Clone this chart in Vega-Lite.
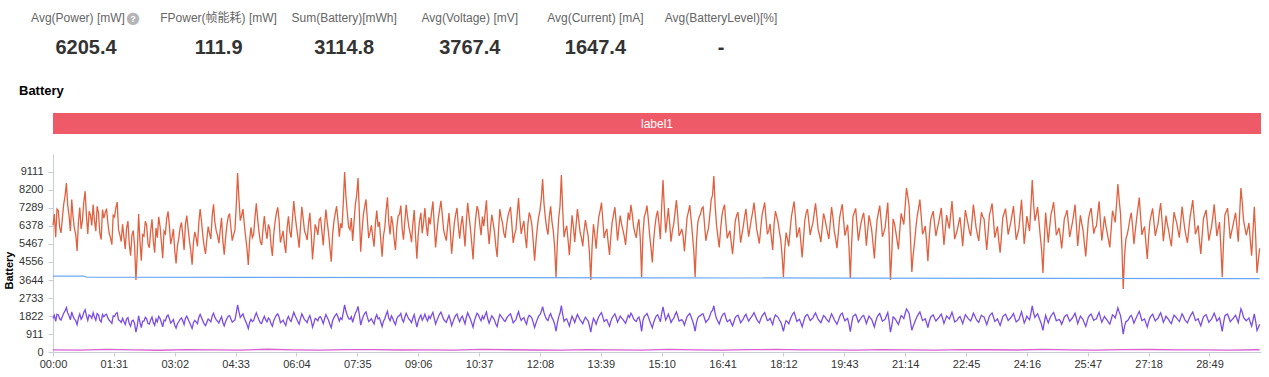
{
"$schema": "https://vega.github.io/schema/vega-lite/v6.json",
"padding": {"left": 3, "top": 0, "right": 0, "bottom": 0},
"autosize": {"type": "pad"},
"background": "white",
"bounds": "flush",
"spacing": 20,
"config": {
  "view": {"stroke": null},
  "font": "Liberation Sans, Noto Sans CJK SC, sans-serif",
  "axis": {"domainColor": "#c9ced6", "tickColor": "#c9ced6", "labelColor": "#333", "labelFontSize": 11, "grid": false, "tickSize": 5, "labelFont": "Liberation Sans"}
},
"datasets": {
  "stats": [
    {"metric": "Avg(Power) [mW]", "value": "6205.4"},
    {"metric": "FPower(帧能耗) [mW]", "value": "111.9"},
    {"metric": "Sum(Battery)[mWh]", "value": "3114.8"},
    {"metric": "Avg(Voltage) [mV]", "value": "3767.4"},
    {"metric": "Avg(Current) [mA]", "value": "1647.4"},
    {"metric": "Avg(BatteryLevel)[%]", "value": "-"}
  ],
  "band": [{"label": "label1"}],
  "volt": [
    {"t": 0, "v": 3845}, {"t": 46, "v": 3845}, {"t": 50, "v": 3790}, {"t": 300, "v": 3780}, {"t": 600, "v": 3765}, {"t": 900, "v": 3755}, {"t": 1200, "v": 3740}, {"t": 1500, "v": 3725}, {"t": 1804, "v": 3715}
  ],
  "fp": [
    {"t": 0, "f": 110}, {"t": 40, "f": 95}, {"t": 80, "f": 130}, {"t": 120, "f": 105}, {"t": 160, "f": 88}, {"t": 200, "f": 120}, {"t": 240, "f": 112}, {"t": 280, "f": 98}, {"t": 320, "f": 140}, {"t": 360, "f": 104},
    {"t": 400, "f": 92}, {"t": 440, "f": 118}, {"t": 480, "f": 125}, {"t": 520, "f": 100}, {"t": 560, "f": 108}, {"t": 600, "f": 96}, {"t": 640, "f": 134}, {"t": 680, "f": 115}, {"t": 720, "f": 102}, {"t": 760, "f": 90},
    {"t": 800, "f": 122}, {"t": 840, "f": 110}, {"t": 880, "f": 99}, {"t": 920, "f": 128}, {"t": 960, "f": 106}, {"t": 1000, "f": 94}, {"t": 1040, "f": 117}, {"t": 1080, "f": 131}, {"t": 1120, "f": 103}, {"t": 1160, "f": 112},
    {"t": 1200, "f": 97}, {"t": 1240, "f": 124}, {"t": 1280, "f": 109}, {"t": 1320, "f": 91}, {"t": 1360, "f": 120}, {"t": 1400, "f": 113}, {"t": 1440, "f": 101}, {"t": 1480, "f": 136}, {"t": 1520, "f": 107}, {"t": 1560, "f": 95},
    {"t": 1600, "f": 119}, {"t": 1640, "f": 126}, {"t": 1680, "f": 104}, {"t": 1720, "f": 111}, {"t": 1760, "f": 98}, {"t": 1800, "f": 115}, {"t": 1804, "f": 110}
  ],
  "main": [
{"t":0,"p":6420,"c":1690},{"t":4,"p":5810,"c":1555},{"t":8,"p":7150,"c":1880},{"t":12,"p":6030,"c":1615},{"t":16,"p":7480,"c":1960},{"t":20,"p":8550,"c":2250},{"t":24,"p":6890,"c":1840},{"t":28,"p":7720,"c":2030},{"t":32,"p":6240,"c":1665},{"t":36,"p":5120,"c":1380},
{"t":40,"p":7310,"c":1925},{"t":44,"p":6650,"c":1775},{"t":48,"p":8140,"c":2140},{"t":52,"p":5980,"c":1600},{"t":56,"p":6930,"c":1820},{"t":60,"p":7460,"c":1990},{"t":64,"p":6120,"c":1610},{"t":68,"p":7050,"c":1880},{"t":72,"p":5690,"c":1520},{"t":76,"p":6780,"c":1785},
{"t":80,"p":7260,"c":1910},{"t":84,"p":6010,"c":1605},{"t":88,"p":5430,"c":1450},{"t":92,"p":6840,"c":1800},{"t":96,"p":7590,"c":1995},{"t":100,"p":5920,"c":1580},{"t":104,"p":6470,"c":1700},{"t":108,"p":5210,"c":1395},{"t":112,"p":6630,"c":1745},{"t":116,"p":4870,"c":1305},
{"t":120,"p":6150,"c":1615},{"t":124,"p":3640,"c":1010},{"t":128,"p":6980,"c":1835},{"t":132,"p":4620,"c":1240},{"t":136,"p":5860,"c":1560},{"t":140,"p":6410,"c":1685},{"t":144,"p":5280,"c":1410},{"t":148,"p":6720,"c":1770},{"t":152,"p":5030,"c":1350},{"t":156,"p":5790,"c":1525},
{"t":160,"p":6380,"c":1705},{"t":164,"p":4750,"c":1270},{"t":168,"p":5990,"c":1575},{"t":172,"p":7120,"c":1870},{"t":176,"p":5460,"c":1460},{"t":180,"p":6230,"c":1640},{"t":184,"p":4480,"c":1210},{"t":188,"p":5740,"c":1530},{"t":192,"p":6560,"c":1725},{"t":196,"p":5170,"c":1385},
{"t":200,"p":6910,"c":1815},{"t":204,"p":5630,"c":1505},{"t":208,"p":4420,"c":1195},{"t":212,"p":6080,"c":1600},{"t":216,"p":5350,"c":1430},{"t":220,"p":7240,"c":1900},{"t":224,"p":5890,"c":1575},{"t":228,"p":4960,"c":1330},{"t":232,"p":6350,"c":1670},{"t":236,"p":5720,"c":1530},
{"t":240,"p":7480,"c":1965},{"t":244,"p":6140,"c":1640},{"t":248,"p":5510,"c":1470},{"t":252,"p":6790,"c":1785},{"t":256,"p":4930,"c":1320},{"t":260,"p":6420,"c":1690},{"t":264,"p":7010,"c":1845},{"t":268,"p":5640,"c":1510},{"t":272,"p":6180,"c":1625},{"t":276,"p":9060,"c":2380},
{"t":280,"p":6650,"c":1750},{"t":284,"p":7230,"c":1930},{"t":288,"p":5820,"c":1555},{"t":292,"p":4410,"c":1185},{"t":296,"p":6310,"c":1660},{"t":300,"p":5960,"c":1595},{"t":304,"p":7530,"c":1980},{"t":308,"p":6070,"c":1620},{"t":312,"p":5410,"c":1445},{"t":316,"p":6880,"c":1810},
{"t":320,"p":5730,"c":1530},{"t":324,"p":6240,"c":1640},{"t":328,"p":4860,"c":1300},{"t":332,"p":6590,"c":1735},{"t":336,"p":7320,"c":1925},{"t":340,"p":5540,"c":1480},{"t":344,"p":6130,"c":1615},{"t":348,"p":5010,"c":1340},{"t":352,"p":6870,"c":1805},{"t":356,"p":5790,"c":1550},
{"t":360,"p":7640,"c":2010},{"t":364,"p":6350,"c":1695},{"t":368,"p":5280,"c":1410},{"t":372,"p":7350,"c":1935},{"t":376,"p":6120,"c":1635},{"t":380,"p":5670,"c":1490},{"t":384,"p":7040,"c":1850},{"t":388,"p":4690,"c":1260},{"t":392,"p":6460,"c":1700},{"t":396,"p":5930,"c":1585},
{"t":400,"p":6780,"c":1780},{"t":404,"p":5390,"c":1440},{"t":408,"p":7210,"c":1895},{"t":412,"p":6020,"c":1610},{"t":416,"p":4570,"c":1230},{"t":420,"p":6610,"c":1740},{"t":424,"p":7380,"c":1940},{"t":428,"p":5840,"c":1560},{"t":432,"p":6270,"c":1650},{"t":436,"p":9110,"c":2380},
{"t":440,"p":7050,"c":1855},{"t":444,"p":6190,"c":1655},{"t":448,"p":5620,"c":1500},{"t":452,"p":7470,"c":1965},{"t":456,"p":8800,"c":2310},{"t":460,"p":5080,"c":1360},{"t":464,"p":6940,"c":1825},{"t":468,"p":7720,"c":2030},{"t":472,"p":5760,"c":1540},{"t":476,"p":6410,"c":1685},
{"t":480,"p":5330,"c":1425},{"t":484,"p":7160,"c":1885},{"t":488,"p":6580,"c":1730},{"t":492,"p":4820,"c":1290},{"t":496,"p":6290,"c":1680},{"t":500,"p":7830,"c":2060},{"t":504,"p":5950,"c":1590},{"t":508,"p":6470,"c":1700},{"t":512,"p":5170,"c":1385},{"t":516,"p":6890,"c":1810},
{"t":520,"p":7410,"c":1950},{"t":524,"p":5680,"c":1520},{"t":528,"p":7450,"c":1960},{"t":532,"p":6350,"c":1670},{"t":536,"p":5560,"c":1485},{"t":540,"p":7190,"c":1890},{"t":544,"p":4720,"c":1265},{"t":548,"p":6630,"c":1745},{"t":552,"p":6010,"c":1605},{"t":556,"p":7280,"c":1915},
{"t":560,"p":5870,"c":1570},{"t":564,"p":6460,"c":1700},{"t":568,"p":7620,"c":2005},{"t":572,"p":5290,"c":1415},{"t":576,"p":6740,"c":1775},{"t":580,"p":7650,"c":2015},{"t":584,"p":6180,"c":1650},{"t":588,"p":5640,"c":1505},{"t":592,"p":7030,"c":1850},{"t":596,"p":4980,"c":1335},
{"t":600,"p":6520,"c":1715},{"t":604,"p":7290,"c":1920},{"t":608,"p":5730,"c":1530},{"t":612,"p":6880,"c":1810},{"t":616,"p":5340,"c":1430},{"t":620,"p":7550,"c":1985},{"t":624,"p":6260,"c":1670},{"t":628,"p":4690,"c":1255},{"t":632,"p":6790,"c":1785},{"t":636,"p":7140,"c":1880},
{"t":640,"p":5910,"c":1580},{"t":644,"p":6370,"c":1675},{"t":648,"p":7680,"c":2020},{"t":652,"p":5460,"c":1460},{"t":656,"p":6950,"c":1830},{"t":660,"p":6080,"c":1625},{"t":664,"p":4810,"c":1290},{"t":668,"p":7230,"c":1900},{"t":672,"p":6540,"c":1720},{"t":676,"p":5780,"c":1545},
{"t":680,"p":6850,"c":1800},{"t":684,"p":7340,"c":1930},{"t":688,"p":5520,"c":1475},{"t":692,"p":6170,"c":1620},{"t":696,"p":7790,"c":2045},{"t":700,"p":5980,"c":1600},{"t":704,"p":6630,"c":1745},{"t":708,"p":5250,"c":1405},{"t":712,"p":7060,"c":1860},{"t":716,"p":6410,"c":1710},
{"t":720,"p":4620,"c":1240},{"t":724,"p":6280,"c":1650},{"t":728,"p":7160,"c":1885},{"t":732,"p":8760,"c":2300},{"t":736,"p":6830,"c":1795},{"t":740,"p":5940,"c":1590},{"t":744,"p":7370,"c":1940},{"t":748,"p":6120,"c":1610},{"t":752,"p":3800,"c":1050},{"t":756,"p":6760,"c":1780},
{"t":760,"p":8960,"c":2350},{"t":764,"p":5810,"c":1555},{"t":768,"p":6390,"c":1680},{"t":772,"p":4900,"c":1315},{"t":776,"p":6920,"c":1820},{"t":780,"p":5570,"c":1490},{"t":784,"p":7240,"c":1905},{"t":788,"p":6060,"c":1620},{"t":792,"p":5350,"c":1430},{"t":796,"p":6680,"c":1760},
{"t":800,"p":5890,"c":1575},{"t":804,"p":3640,"c":1010},{"t":808,"p":6470,"c":1700},{"t":812,"p":5230,"c":1400},{"t":816,"p":6840,"c":1800},{"t":820,"p":7560,"c":1990},{"t":824,"p":5760,"c":1540},{"t":828,"p":6230,"c":1640},{"t":832,"p":4910,"c":1315},{"t":836,"p":6570,"c":1730},
{"t":840,"p":7330,"c":1930},{"t":844,"p":5640,"c":1510},{"t":848,"p":6910,"c":1815},{"t":852,"p":6180,"c":1650},{"t":856,"p":5420,"c":1450},{"t":860,"p":7060,"c":1855},{"t":864,"p":7450,"c":1960},{"t":868,"p":6340,"c":1670},{"t":872,"p":5780,"c":1545},{"t":876,"p":6720,"c":1770},
{"t":880,"p":3800,"c":1040},{"t":884,"p":6850,"c":1800},{"t":888,"p":7410,"c":1950},{"t":892,"p":5930,"c":1585},{"t":896,"p":4530,"c":1220},{"t":900,"p":6380,"c":1680},{"t":904,"p":7150,"c":1880},{"t":908,"p":5710,"c":1525},{"t":912,"p":8700,"c":2280},{"t":916,"p":6040,"c":1615},
{"t":920,"p":7280,"c":1915},{"t":924,"p":5580,"c":1490},{"t":928,"p":6470,"c":1700},{"t":932,"p":7690,"c":2025},{"t":936,"p":5870,"c":1570},{"t":940,"p":6230,"c":1640},{"t":944,"p":5090,"c":1360},{"t":948,"p":6810,"c":1790},{"t":952,"p":7430,"c":1955},{"t":956,"p":5940,"c":1590},
{"t":960,"p":3800,"c":1050},{"t":964,"p":6560,"c":1725},{"t":968,"p":6980,"c":1835},{"t":972,"p":7340,"c":1930},{"t":976,"p":5630,"c":1505},{"t":980,"p":6270,"c":1650},{"t":984,"p":7710,"c":2030},{"t":988,"p":8910,"c":2340},{"t":992,"p":6430,"c":1690},{"t":996,"p":5290,"c":1415},
{"t":1000,"p":6890,"c":1810},{"t":1004,"p":7460,"c":1960},{"t":1008,"p":5750,"c":1535},{"t":1012,"p":6140,"c":1640},{"t":1016,"p":4950,"c":1325},{"t":1020,"p":6620,"c":1740},{"t":1024,"p":7080,"c":1865},{"t":1028,"p":5530,"c":1480},{"t":1032,"p":6360,"c":1675},{"t":1036,"p":7250,"c":1905},
{"t":1040,"p":5840,"c":1560},{"t":1044,"p":6710,"c":1765},{"t":1048,"p":7560,"c":1990},{"t":1052,"p":6230,"c":1665},{"t":1056,"p":5490,"c":1470},{"t":1060,"p":6930,"c":1820},{"t":1064,"p":7570,"c":1995},{"t":1068,"p":5960,"c":1590},{"t":1072,"p":6480,"c":1705},{"t":1076,"p":5170,"c":1385},
{"t":1080,"p":7130,"c":1875},{"t":1084,"p":6570,"c":1755},{"t":1088,"p":5680,"c":1515},{"t":1092,"p":3800,"c":1040},{"t":1096,"p":6040,"c":1590},{"t":1100,"p":5350,"c":1430},{"t":1104,"p":6850,"c":1800},{"t":1108,"p":7620,"c":2005},{"t":1112,"p":5790,"c":1550},{"t":1116,"p":6310,"c":1660},
{"t":1120,"p":4780,"c":1280},{"t":1124,"p":6670,"c":1755},{"t":1128,"p":7240,"c":1905},{"t":1132,"p":5930,"c":1585},{"t":1136,"p":6520,"c":1715},{"t":1140,"p":7520,"c":1980},{"t":1144,"p":6180,"c":1650},{"t":1148,"p":5560,"c":1485},{"t":1152,"p":7010,"c":1845},{"t":1156,"p":6390,"c":1680},
{"t":1160,"p":5720,"c":1530},{"t":1164,"p":7340,"c":1930},{"t":1168,"p":6110,"c":1630},{"t":1172,"p":5260,"c":1405},{"t":1176,"p":6790,"c":1785},{"t":1180,"p":7480,"c":1970},{"t":1184,"p":5890,"c":1575},{"t":1188,"p":6440,"c":1695},{"t":1192,"p":3750,"c":1030},{"t":1196,"p":6860,"c":1805},
{"t":1200,"p":7270,"c":1910},{"t":1204,"p":5640,"c":1510},{"t":1208,"p":6530,"c":1720},{"t":1212,"p":7050,"c":1855},{"t":1216,"p":5380,"c":1440},{"t":1220,"p":6920,"c":1820},{"t":1224,"p":6160,"c":1645},{"t":1228,"p":4740,"c":1270},{"t":1232,"p":6680,"c":1760},{"t":1236,"p":7410,"c":1950},
{"t":1240,"p":5830,"c":1560},{"t":1244,"p":6290,"c":1655},{"t":1248,"p":7560,"c":1990},{"t":1252,"p":3640,"c":1000},{"t":1256,"p":6740,"c":1775},{"t":1260,"p":6080,"c":1625},{"t":1264,"p":5190,"c":1390},{"t":1268,"p":7020,"c":1845},{"t":1272,"p":6450,"c":1695},{"t":1276,"p":8300,"c":2180},
{"t":1280,"p":7380,"c":1940},{"t":1284,"p":4050,"c":1100},{"t":1288,"p":5540,"c":1480},{"t":1292,"p":6870,"c":1805},{"t":1296,"p":7720,"c":2030},{"t":1300,"p":5960,"c":1590},{"t":1304,"p":6380,"c":1680},{"t":1308,"p":4590,"c":1235},{"t":1312,"p":6660,"c":1750},{"t":1316,"p":7130,"c":1875},
{"t":1320,"p":5870,"c":1570},{"t":1324,"p":6540,"c":1720},{"t":1328,"p":7290,"c":1915},{"t":1332,"p":5420,"c":1450},{"t":1336,"p":6930,"c":1825},{"t":1340,"p":6250,"c":1670},{"t":1344,"p":7640,"c":2010},{"t":1348,"p":5710,"c":1525},{"t":1352,"p":6180,"c":1625},{"t":1356,"p":6820,"c":1795},
{"t":1360,"p":5360,"c":1435},{"t":1364,"p":7180,"c":1890},{"t":1368,"p":6490,"c":1705},{"t":1372,"p":5880,"c":1570},{"t":1376,"p":7460,"c":1960},{"t":1380,"p":6310,"c":1685},{"t":1384,"p":5620,"c":1500},{"t":1388,"p":7070,"c":1860},{"t":1392,"p":6730,"c":1770},{"t":1396,"p":5160,"c":1380},
{"t":1400,"p":6940,"c":1825},{"t":1404,"p":7520,"c":1975},{"t":1408,"p":5790,"c":1550},{"t":1412,"p":6360,"c":1670},{"t":1416,"p":5030,"c":1345},{"t":1420,"p":6810,"c":1790},{"t":1424,"p":7260,"c":1910},{"t":1428,"p":5940,"c":1590},{"t":1432,"p":6570,"c":1730},{"t":1436,"p":7390,"c":1945},
{"t":1440,"p":5680,"c":1520},{"t":1444,"p":6230,"c":1640},{"t":1448,"p":7710,"c":2030},{"t":1452,"p":5470,"c":1465},{"t":1456,"p":6880,"c":1810},{"t":1460,"p":6120,"c":1635},{"t":1464,"p":8700,"c":2330},{"t":1468,"p":6640,"c":1745},{"t":1472,"p":7340,"c":1930},{"t":1476,"p":5860,"c":1565},
{"t":1480,"p":4000,"c":1090},{"t":1484,"p":7060,"c":1855},{"t":1488,"p":5530,"c":1480},{"t":1492,"p":6970,"c":1835},{"t":1496,"p":7580,"c":1995},{"t":1500,"p":5910,"c":1580},{"t":1504,"p":6290,"c":1655},{"t":1508,"p":5240,"c":1400},{"t":1512,"p":6750,"c":1775},{"t":1516,"p":7180,"c":1890},
{"t":1520,"p":5810,"c":1555},{"t":1524,"p":6530,"c":1720},{"t":1528,"p":7460,"c":1960},{"t":1532,"p":5370,"c":1435},{"t":1536,"p":6920,"c":1820},{"t":1540,"p":6160,"c":1645},{"t":1544,"p":4840,"c":1295},{"t":1548,"p":6710,"c":1765},{"t":1552,"p":7290,"c":1920},{"t":1556,"p":5990,"c":1600},
{"t":1560,"p":6380,"c":1680},{"t":1564,"p":7630,"c":2005},{"t":1568,"p":5640,"c":1510},{"t":1572,"p":6870,"c":1805},{"t":1576,"p":6040,"c":1615},{"t":1580,"p":5290,"c":1415},{"t":1584,"p":7150,"c":1880},{"t":1588,"p":6560,"c":1725},{"t":1592,"p":8500,"c":2240},{"t":1596,"p":6990,"c":1840},
{"t":1600,"p":3190,"c":900},{"t":1604,"p":5720,"c":1530},{"t":1608,"p":6280,"c":1650},{"t":1612,"p":7050,"c":1855},{"t":1616,"p":5460,"c":1460},{"t":1620,"p":6740,"c":1770},{"t":1624,"p":7820,"c":2055},{"t":1628,"p":5930,"c":1585},{"t":1632,"p":6350,"c":1670},{"t":1636,"p":4710,"c":1265},
{"t":1640,"p":6630,"c":1745},{"t":1644,"p":7270,"c":1910},{"t":1648,"p":5880,"c":1570},{"t":1652,"p":6490,"c":1705},{"t":1656,"p":7540,"c":1985},{"t":1660,"p":5610,"c":1500},{"t":1664,"p":6910,"c":1815},{"t":1668,"p":6130,"c":1640},{"t":1672,"p":5350,"c":1430},{"t":1676,"p":7080,"c":1860},
{"t":1680,"p":6520,"c":1715},{"t":1684,"p":5790,"c":1550},{"t":1688,"p":7360,"c":1935},{"t":1692,"p":6240,"c":1640},{"t":1696,"p":5530,"c":1480},{"t":1700,"p":6850,"c":1800},{"t":1704,"p":7690,"c":2020},{"t":1708,"p":5960,"c":1595},{"t":1712,"p":6410,"c":1685},{"t":1716,"p":4960,"c":1330},
{"t":1720,"p":6760,"c":1775},{"t":1724,"p":7190,"c":1890},{"t":1728,"p":5640,"c":1510},{"t":1732,"p":6320,"c":1660},{"t":1736,"p":7470,"c":1965},{"t":1740,"p":5870,"c":1570},{"t":1744,"p":6580,"c":1730},{"t":1748,"p":3800,"c":1040},{"t":1752,"p":6940,"c":1825},{"t":1756,"p":7280,"c":1915},
{"t":1760,"p":5740,"c":1535},{"t":1764,"p":6390,"c":1680},{"t":1768,"p":7050,"c":1855},{"t":1772,"p":5580,"c":1490},{"t":1776,"p":8300,"c":2185},{"t":1780,"p":6650,"c":1750},{"t":1784,"p":5910,"c":1580},{"t":1788,"p":6530,"c":1720},{"t":1792,"p":4870,"c":1305},{"t":1796,"p":7350,"c":1930},
{"t":1800,"p":4000,"c":1090},{"t":1804,"p":5250,"c":1405},
{"t":2,"p":6980,"c":1850},{"t":6,"p":7240,"c":1910},{"t":10,"p":6310,"c":1680},{"t":14,"p":6770,"c":1800},{"t":18,"p":7890,"c":2080},{"t":22,"p":7430,"c":1975},{"t":26,"p":6120,"c":1630},{"t":30,"p":6850,"c":1805},{"t":34,"p":5940,"c":1585},{"t":38,"p":6560,"c":1730},
{"t":42,"p":6230,"c":1660},{"t":46,"p":7580,"c":1995},{"t":50,"p":6890,"c":1835},{"t":54,"p":7120,"c":1875},{"t":58,"p":6410,"c":1705},{"t":62,"p":6650,"c":1770},{"t":66,"p":7370,"c":1945},{"t":70,"p":6020,"c":1605},{"t":74,"p":7210,"c":1900},{"t":78,"p":7040,"c":1875},
{"t":82,"p":6540,"c":1725},{"t":86,"p":5760,"c":1540},{"t":90,"p":6920,"c":1825},{"t":94,"p":7310,"c":1945},{"t":98,"p":6180,"c":1630},{"t":102,"p":5590,"c":1495},{"t":106,"p":5840,"c":1540},{"t":110,"p":6270,"c":1670},{"t":114,"p":5480,"c":1445},{"t":118,"p":5910,"c":1575},
{"t":122,"p":5360,"c":1430},{"t":126,"p":5010,"c":1320},{"t":130,"p":5620,"c":1500},{"t":134,"p":5940,"c":1565},{"t":138,"p":6620,"c":1760},{"t":142,"p":5470,"c":1440},{"t":146,"p":6110,"c":1625},{"t":150,"p":5630,"c":1485},{"t":154,"p":6280,"c":1670},{"t":158,"p":6840,"c":1805},
{"t":162,"p":5590,"c":1490},{"t":166,"p":6120,"c":1615},{"t":170,"p":6760,"c":1800},{"t":174,"p":6380,"c":1685},{"t":178,"p":5810,"c":1545},{"t":182,"p":5140,"c":1355},{"t":186,"p":5360,"c":1430},{"t":190,"p":6280,"c":1655},{"t":194,"p":5930,"c":1580},{"t":198,"p":6470,"c":1710},
{"t":202,"p":6240,"c":1660},{"t":206,"p":5120,"c":1350},{"t":210,"p":5570,"c":1485},{"t":214,"p":5780,"c":1525},{"t":218,"p":6550,"c":1745},{"t":222,"p":6630,"c":1750},{"t":226,"p":5340,"c":1425},{"t":230,"p":5710,"c":1505},{"t":234,"p":6020,"c":1600},{"t":238,"p":6890,"c":1820},
{"t":242,"p":6580,"c":1750},{"t":246,"p":5890,"c":1555},{"t":250,"p":6160,"c":1640},{"t":254,"p":5610,"c":1480},{"t":258,"p":5780,"c":1540},{"t":262,"p":6850,"c":1810},{"t":266,"p":6290,"c":1675},{"t":270,"p":5930,"c":1565},{"t":274,"p":7420,"c":1975},{"t":278,"p":7750,"c":2045},
{"t":282,"p":6910,"c":1840},{"t":286,"p":6480,"c":1710},{"t":290,"p":5240,"c":1395},{"t":294,"p":5670,"c":1495},{"t":298,"p":5790,"c":1540},{"t":302,"p":6840,"c":1805},{"t":306,"p":6720,"c":1790},{"t":310,"p":5580,"c":1470},{"t":314,"p":6240,"c":1660},{"t":318,"p":6150,"c":1625},
{"t":322,"p":6460,"c":1720},{"t":326,"p":5410,"c":1425},{"t":330,"p":5950,"c":1585},{"t":334,"p":7040,"c":1860},{"t":338,"p":6670,"c":1775},{"t":342,"p":5830,"c":1540},{"t":346,"p":5460,"c":1455},{"t":350,"p":6290,"c":1660},{"t":354,"p":6110,"c":1625},{"t":358,"p":6760,"c":1785},
{"t":362,"p":6890,"c":1830},{"t":366,"p":5860,"c":1545},{"t":370,"p":6340,"c":1690},{"t":374,"p":6780,"c":1790},{"t":378,"p":5940,"c":1580},{"t":382,"p":6490,"c":1715},{"t":386,"p":6010,"c":1600},{"t":390,"p":5580,"c":1470},{"t":394,"p":6230,"c":1660},{"t":398,"p":6690,"c":1765},
{"t":402,"p":6140,"c":1635},{"t":406,"p":6380,"c":1685},{"t":410,"p":6560,"c":1745},{"t":414,"p":5270,"c":1390},{"t":418,"p":5930,"c":1580},{"t":422,"p":7020,"c":1855},{"t":426,"p":6690,"c":1780},{"t":430,"p":6510,"c":1720},{"t":434,"p":7560,"c":2010},{"t":438,"p":7830,"c":2060},
{"t":442,"p":6320,"c":1680},{"t":446,"p":6780,"c":1790},{"t":450,"p":6540,"c":1740},{"t":454,"p":7920,"c":2090},{"t":458,"p":7080,"c":1885},{"t":462,"p":6130,"c":1620},{"t":466,"p":7360,"c":1955},{"t":470,"p":6690,"c":1765},{"t":474,"p":6050,"c":1610},{"t":478,"p":5840,"c":1545},
{"t":482,"p":6470,"c":1720},{"t":486,"p":6340,"c":1675},{"t":490,"p":5690,"c":1515},{"t":494,"p":5870,"c":1550},{"t":498,"p":7150,"c":1900},{"t":502,"p":6540,"c":1725},{"t":506,"p":6880,"c":1830},{"t":510,"p":5720,"c":1510},{"t":514,"p":6320,"c":1680},{"t":518,"p":6960,"c":1840},
{"t":522,"p":6250,"c":1650},{"t":526,"p":6620,"c":1760},{"t":530,"p":6840,"c":1805},{"t":534,"p":6010,"c":1600},{"t":538,"p":6480,"c":1710},{"t":542,"p":5870,"c":1565},{"t":546,"p":5920,"c":1560},{"t":550,"p":7040,"c":1870},{"t":554,"p":6580,"c":1735},{"t":558,"p":6430,"c":1710},
{"t":562,"p":6820,"c":1815},{"t":566,"p":7090,"c":1870},{"t":570,"p":6410,"c":1705},{"t":574,"p":6070,"c":1600},{"t":578,"p":7210,"c":1920},{"t":582,"p":6950,"c":1835},{"t":586,"p":5890,"c":1570},{"t":590,"p":6370,"c":1680},{"t":594,"p":6120,"c":1630},{"t":598,"p":5780,"c":1525},
{"t":602,"p":6970,"c":1855},{"t":606,"p":6390,"c":1685},{"t":610,"p":6450,"c":1715},{"t":614,"p":6130,"c":1620},{"t":618,"p":6620,"c":1760},{"t":622,"p":6880,"c":1815},{"t":626,"p":5520,"c":1470},{"t":630,"p":5960,"c":1575},{"t":634,"p":7380,"c":1965},{"t":638,"p":6470,"c":1705},
{"t":642,"p":6850,"c":1820},{"t":646,"p":7030,"c":1855},{"t":650,"p":6310,"c":1680},{"t":654,"p":6240,"c":1645},{"t":658,"p":6540,"c":1740},{"t":662,"p":5370,"c":1415},{"t":666,"p":6080,"c":1620},{"t":670,"p":6810,"c":1800},{"t":674,"p":6020,"c":1605},{"t":678,"p":6390,"c":1690},
{"t":682,"p":7120,"c":1880},{"t":686,"p":6460,"c":1720},{"t":690,"p":5940,"c":1565},{"t":694,"p":6980,"c":1860},{"t":698,"p":6730,"c":1775},{"t":702,"p":6350,"c":1690},{"t":706,"p":5860,"c":1545},{"t":710,"p":6470,"c":1720},{"t":714,"p":6820,"c":1800},{"t":718,"p":5590,"c":1490},
{"t":722,"p":5540,"c":1460},{"t":726,"p":6830,"c":1815},{"t":730,"p":7760,"c":2045},{"t":734,"p":7540,"c":2005},{"t":738,"p":6270,"c":1655},{"t":742,"p":6840,"c":1820},{"t":746,"p":6590,"c":1740},{"t":750,"p":5280,"c":1405},{"t":754,"p":5510,"c":1455},{"t":758,"p":7380,"c":1960},
{"t":762,"p":7240,"c":1910},{"t":766,"p":6170,"c":1645},{"t":770,"p":5680,"c":1500},{"t":774,"p":5930,"c":1580},{"t":778,"p":6350,"c":1675},{"t":782,"p":6420,"c":1710},{"t":786,"p":6690,"c":1765},{"t":790,"p":5790,"c":1540},{"t":794,"p":6140,"c":1620},{"t":798,"p":6260,"c":1665},
{"t":802,"p":5020,"c":1340},{"t":806,"p":5360,"c":1415},{"t":810,"p":5910,"c":1575},{"t":814,"p":6150,"c":1625},{"t":818,"p":7150,"c":1900},{"t":822,"p":6680,"c":1765},{"t":826,"p":6070,"c":1615},{"t":830,"p":5540,"c":1460},{"t":834,"p":5850,"c":1555},{"t":838,"p":6940,"c":1835},
{"t":842,"p":6550,"c":1745},{"t":846,"p":6290,"c":1660},{"t":850,"p":6480,"c":1725},{"t":854,"p":5860,"c":1545},{"t":858,"p":6230,"c":1660},{"t":862,"p":6670,"c":1760},{"t":866,"p":6980,"c":1855},{"t":870,"p":6020,"c":1590},{"t":874,"p":6410,"c":1705},{"t":878,"p":5730,"c":1510},
{"t":882,"p":5950,"c":1585},{"t":886,"p":7060,"c":1865},{"t":890,"p":6730,"c":1790},{"t":894,"p":5280,"c":1405},{"t":898,"p":5670,"c":1495},{"t":902,"p":6890,"c":1830},{"t":906,"p":6490,"c":1715},{"t":910,"p":7380,"c":1950},{"t":914,"p":7260,"c":1930},{"t":918,"p":6640,"c":1755},
{"t":922,"p":6470,"c":1720},{"t":926,"p":6150,"c":1625},{"t":930,"p":7080,"c":1880},{"t":934,"p":6890,"c":1820},{"t":938,"p":6020,"c":1600},{"t":942,"p":5870,"c":1550},{"t":946,"p":5960,"c":1585},{"t":950,"p":7110,"c":1875},{"t":954,"p":6720,"c":1785},{"t":958,"p":5130,"c":1365},
{"t":962,"p":5590,"c":1475},{"t":966,"p":6830,"c":1815},{"t":970,"p":7260,"c":1920},{"t":974,"p":6480,"c":1710},{"t":978,"p":5990,"c":1595},{"t":982,"p":6940,"c":1830},{"t":986,"p":7940,"c":2110},{"t":990,"p":7370,"c":1945},{"t":994,"p":5840,"c":1555},{"t":998,"p":6170,"c":1630},
{"t":1002,"p":7240,"c":1925},{"t":1006,"p":6520,"c":1720},{"t":1010,"p":5960,"c":1585},{"t":1014,"p":5530,"c":1460},{"t":1018,"p":5740,"c":1530},{"t":1022,"p":6910,"c":1825},{"t":1026,"p":6380,"c":1695},{"t":1030,"p":5970,"c":1575},{"t":1034,"p":6860,"c":1825},{"t":1038,"p":6520,"c":1720},
{"t":1042,"p":6290,"c":1675},{"t":1046,"p":7080,"c":1870},{"t":1050,"p":6930,"c":1840},{"t":1054,"p":5870,"c":1550},{"t":1058,"p":6210,"c":1655},{"t":1062,"p":7240,"c":1910},{"t":1066,"p":6740,"c":1790},{"t":1070,"p":6130,"c":1620},{"t":1074,"p":5790,"c":1540},{"t":1078,"p":6450,"c":1705},
{"t":1082,"p":6860,"c":1810},{"t":1086,"p":6090,"c":1620},{"t":1090,"p":4890,"c":1305},{"t":1094,"p":5210,"c":1375},{"t":1098,"p":5730,"c":1525},{"t":1102,"p":6180,"c":1630},{"t":1106,"p":7260,"c":1930},{"t":1110,"p":6810,"c":1800},{"t":1114,"p":6040,"c":1605},{"t":1118,"p":5580,"c":1475},
{"t":1122,"p":5720,"c":1520},{"t":1126,"p":7040,"c":1860},{"t":1130,"p":6590,"c":1750},{"t":1134,"p":6260,"c":1655},{"t":1138,"p":7020,"c":1865},{"t":1142,"p":6870,"c":1815},{"t":1146,"p":5910,"c":1570},{"t":1150,"p":6290,"c":1660},{"t":1154,"p":6740,"c":1790},{"t":1158,"p":6030,"c":1595},
{"t":1162,"p":6540,"c":1740},{"t":1166,"p":6820,"c":1800},{"t":1170,"p":5750,"c":1530},{"t":1174,"p":5970,"c":1575},{"t":1178,"p":7180,"c":1910},{"t":1182,"p":6630,"c":1750},{"t":1186,"p":6170,"c":1640},{"t":1190,"p":5340,"c":1410},{"t":1194,"p":5490,"c":1460},{"t":1198,"p":7060,"c":1865},
{"t":1202,"p":6480,"c":1720},{"t":1206,"p":6090,"c":1610},{"t":1210,"p":6820,"c":1815},{"t":1214,"p":6340,"c":1675},{"t":1218,"p":6150,"c":1635},{"t":1222,"p":6560,"c":1730},{"t":1226,"p":5470,"c":1455},{"t":1230,"p":5840,"c":1545},{"t":1234,"p":7060,"c":1875},{"t":1238,"p":6670,"c":1760},
{"t":1242,"p":6040,"c":1605},{"t":1246,"p":6930,"c":1830},{"t":1250,"p":5940,"c":1580},{"t":1254,"p":4980,"c":1330},{"t":1258,"p":6510,"c":1720},{"t":1262,"p":5620,"c":1495},{"t":1266,"p":6180,"c":1630},{"t":1270,"p":6740,"c":1790},{"t":1274,"p":7380,"c":1950},{"t":1278,"p":7860,"c":2075},
{"t":1282,"p":5740,"c":1525},{"t":1286,"p":4920,"c":1310},{"t":1290,"p":6290,"c":1660},{"t":1294,"p":7260,"c":1930},{"t":1298,"p":6880,"c":1815},{"t":1302,"p":6140,"c":1635},{"t":1306,"p":5620,"c":1485},{"t":1310,"p":5810,"c":1545},{"t":1314,"p":6920,"c":1830},{"t":1318,"p":6460,"c":1705},
{"t":1322,"p":6230,"c":1655},{"t":1326,"p":6910,"c":1825},{"t":1330,"p":6380,"c":1695},{"t":1334,"p":6160,"c":1625},{"t":1338,"p":6580,"c":1750},{"t":1342,"p":6940,"c":1835},{"t":1346,"p":6730,"c":1790},{"t":1350,"p":5950,"c":1570},{"t":1354,"p":6530,"c":1735},{"t":1358,"p":6150,"c":1625},
{"t":1362,"p":6270,"c":1665},{"t":1366,"p":6830,"c":1805},{"t":1370,"p":6120,"c":1630},{"t":1374,"p":6650,"c":1755},{"t":1378,"p":6890,"c":1830},{"t":1382,"p":5940,"c":1570},{"t":1386,"p":6380,"c":1695},{"t":1390,"p":6860,"c":1810},{"t":1394,"p":5920,"c":1575},{"t":1398,"p":6040,"c":1595},
{"t":1402,"p":7210,"c":1905},{"t":1406,"p":6670,"c":1775},{"t":1410,"p":6080,"c":1605},{"t":1414,"p":5640,"c":1500},{"t":1418,"p":5890,"c":1555},{"t":1422,"p":7020,"c":1865},{"t":1426,"p":6640,"c":1755},{"t":1430,"p":6270,"c":1670},{"t":1434,"p":6980,"c":1845},{"t":1438,"p":6490,"c":1725},
{"t":1442,"p":5950,"c":1580},{"t":1446,"p":6970,"c":1840},{"t":1450,"p":6580,"c":1750},{"t":1454,"p":6130,"c":1620},{"t":1458,"p":6490,"c":1715},{"t":1462,"p":7380,"c":1960},{"t":1466,"p":7520,"c":1985},{"t":1470,"p":6960,"c":1850},{"t":1474,"p":6610,"c":1745},{"t":1478,"p":5170,"c":1380},
{"t":1482,"p":5640,"c":1500},{"t":1486,"p":6280,"c":1660},{"t":1490,"p":6310,"c":1675},{"t":1494,"p":7240,"c":1915},{"t":1498,"p":6770,"c":1800},{"t":1502,"p":6090,"c":1610},{"t":1506,"p":5860,"c":1560},{"t":1510,"p":5980,"c":1580},{"t":1514,"p":6940,"c":1845},{"t":1518,"p":6520,"c":1720},
{"t":1522,"p":6190,"c":1645},{"t":1526,"p":6980,"c":1845},{"t":1530,"p":6440,"c":1710},{"t":1534,"p":6150,"c":1625},{"t":1538,"p":6510,"c":1730},{"t":1542,"p":5460,"c":1450},{"t":1546,"p":5790,"c":1540},{"t":1550,"p":7040,"c":1860},{"t":1554,"p":6630,"c":1760},{"t":1558,"p":6270,"c":1655},
{"t":1562,"p":7020,"c":1865},{"t":1566,"p":6590,"c":1740},{"t":1570,"p":6240,"c":1660},{"t":1574,"p":6420,"c":1695},{"t":1578,"p":5660,"c":1505},{"t":1582,"p":6230,"c":1645},{"t":1586,"p":6890,"c":1830},{"t":1590,"p":7460,"c":1970},{"t":1594,"p":7690,"c":2030},{"t":1598,"p":5360,"c":1425},
{"t":1602,"p":4850,"c":1295},{"t":1606,"p":5960,"c":1575},{"t":1610,"p":6730,"c":1790},{"t":1614,"p":6380,"c":1685},{"t":1618,"p":6120,"c":1625},{"t":1622,"p":7290,"c":1925},{"t":1626,"p":6840,"c":1820},{"t":1630,"p":6170,"c":1630},{"t":1634,"p":5490,"c":1460},{"t":1638,"p":5830,"c":1540},
{"t":1642,"p":6950,"c":1845},{"t":1646,"p":6540,"c":1730},{"t":1650,"p":6210,"c":1650},{"t":1654,"p":7060,"c":1865},{"t":1658,"p":6680,"c":1775},{"t":1662,"p":6240,"c":1650},{"t":1666,"p":6470,"c":1720},{"t":1670,"p":5720,"c":1510},{"t":1674,"p":6280,"c":1670},{"t":1678,"p":6790,"c":1795},
{"t":1682,"p":6140,"c":1630},{"t":1686,"p":6580,"c":1740},{"t":1690,"p":6790,"c":1805},{"t":1694,"p":5860,"c":1550},{"t":1698,"p":6190,"c":1645},{"t":1702,"p":7240,"c":1915},{"t":1706,"p":6830,"c":1815},{"t":1710,"p":6180,"c":1635},{"t":1714,"p":5620,"c":1495},{"t":1718,"p":5890,"c":1555},
{"t":1722,"p":6970,"c":1850},{"t":1726,"p":6420,"c":1695},{"t":1730,"p":5990,"c":1590},{"t":1734,"p":6850,"c":1810},{"t":1738,"p":6690,"c":1780},{"t":1742,"p":6230,"c":1645},{"t":1746,"p":5320,"c":1415},{"t":1750,"p":5570,"c":1470},{"t":1754,"p":7110,"c":1890},{"t":1758,"p":6540,"c":1730},
{"t":1762,"p":6080,"c":1615},{"t":1766,"p":6720,"c":1775},{"t":1770,"p":6340,"c":1685},{"t":1774,"p":6950,"c":1835},{"t":1778,"p":7560,"c":2010},{"t":1782,"p":6270,"c":1655},{"t":1786,"p":6210,"c":1650},{"t":1790,"p":5640,"c":1490},{"t":1794,"p":6080,"c":1620},{"t":1798,"p":5880,"c":1555},
{"t":1802,"p":4640,"c":1240}
  ]
},
"vconcat": [
  {
    "width": 708,
    "height": 93,
    "data": {"name": "stats"},
    "encoding": {
      "x": {"field": "metric", "type": "ordinal", "scale": {"type": "point", "padding": 0.3183, "domain": ["Avg(Power) [mW]", "FPower(帧能耗) [mW]", "Sum(Battery)[mWh]", "Avg(Voltage) [mV]", "Avg(Current) [mA]", "Avg(BatteryLevel)[%]"]}, "axis": null}
    },
    "layer": [
      {"transform": [{"filter": {"not": {"field": "metric", "equal": "Avg(Power) [mW]"}}}], "mark": {"type": "text", "dy": -28.5, "fontSize": 12, "color": "#666", "baseline": "middle"}, "encoding": {"text": {"field": "metric"}}},
      {"transform": [{"filter": {"field": "metric", "equal": "Avg(Power) [mW]"}}], "mark": {"type": "text", "dx": -15, "dy": -28.5, "fontSize": 12, "color": "#666", "baseline": "middle"}, "encoding": {"text": {"field": "metric"}}},
      {"transform": [{"filter": {"not": {"field": "metric", "equal": "Avg(Power) [mW]"}}}], "mark": {"type": "text", "dy": 1.5, "fontSize": 20, "fontWeight": "bold", "color": "#333", "baseline": "middle", "font": "Liberation Sans"}, "encoding": {"text": {"field": "value"}}},
      {"transform": [{"filter": {"field": "metric", "equal": "Avg(Power) [mW]"}}], "mark": {"type": "text", "dx": -7, "dy": 1.5, "fontSize": 20, "fontWeight": "bold", "color": "#333", "baseline": "middle", "font": "Liberation Sans"}, "encoding": {"text": {"field": "value"}}},
      {"transform": [{"filter": {"field": "metric", "equal": "Avg(Power) [mW]"}}], "mark": {"type": "text", "text": "●", "dx": 40, "dy": -28.5, "fontSize": 16, "color": "#b5b5b5", "baseline": "middle", "font": "DejaVu Sans"}},
      {"transform": [{"filter": {"field": "metric", "equal": "Avg(Power) [mW]"}}], "mark": {"type": "text", "text": "?", "dx": 40, "dy": -28, "fontSize": 9, "fontWeight": "bold", "color": "white", "baseline": "middle"}}
    ]
  },
  {
    "width": 1208,
    "height": 21,
    "view": {"fill": "#ee5a68", "stroke": null},
    "title": {"text": "Battery", "anchor": "start", "dx": -34, "offset": 15, "fontSize": 13, "fontWeight": "bold", "color": "#000", "font": "Liberation Sans"},
    "data": {"name": "band"},
    "mark": {"type": "text", "color": "white", "fontSize": 12, "baseline": "middle"},
    "encoding": {"text": {"field": "label"}}
  },
  {
    "width": 1208,
    "height": 198,
    "encoding": {
      "x": {"field": "t", "type": "quantitative", "scale": {"domain": [0, 1806], "nice": false, "zero": false},
        "axis": {"title": null, "values": [0,91,182,273,364,455,546,637,728,819,910,1001,1092,1183,1274,1365,1456,1547,1638,1729], "labelExpr": "utcFormat(datum.value*1000, '%M:%S')", "labelPadding": 2, "tickSize": 4, "labelFlush": false}}
    },
    "layer": [
      {
        "data": {"name": "main"},
        "mark": {"type": "line", "color": "#e0603f", "strokeWidth": 1.3},
        "encoding": {"y": {"field": "p", "type": "quantitative", "scale": {"domain": [0, 10022], "nice": false}, "axis": {"title": "Battery", "titleFontSize": 11, "titleFontWeight": "bold", "titleColor": "#000", "titlePadding": 4, "titleY": 116, "values": [0,911,1822,2733,3644,4556,5467,6378,7289,8200,9111], "format": "d", "labelPadding": 5}}}
      },
      {
        "data": {"name": "volt"},
        "mark": {"type": "line", "color": "#6aa8f6", "strokeWidth": 1.2},
        "encoding": {"y": {"field": "v", "type": "quantitative", "scale": {"domain": [0, 10022], "nice": false}, "axis": {"title": "Battery", "titleFontSize": 11, "titleFontWeight": "bold", "titleColor": "#000", "titlePadding": 4, "titleY": 116, "values": [0,911,1822,2733,3644,4556,5467,6378,7289,8200,9111], "format": "d", "labelPadding": 5}}}
      },
      {
        "data": {"name": "main"},
        "mark": {"type": "line", "color": "#7b4de6", "strokeWidth": 1.3},
        "encoding": {"y": {"field": "c", "type": "quantitative", "scale": {"domain": [0, 10022], "nice": false}, "axis": {"title": "Battery", "titleFontSize": 11, "titleFontWeight": "bold", "titleColor": "#000", "titlePadding": 4, "titleY": 116, "values": [0,911,1822,2733,3644,4556,5467,6378,7289,8200,9111], "format": "d", "labelPadding": 5}}}
      },
      {
        "data": {"name": "fp"},
        "mark": {"type": "line", "color": "#d95fd2", "strokeWidth": 1.3},
        "encoding": {"y": {"field": "f", "type": "quantitative", "scale": {"domain": [0, 10022], "nice": false}, "axis": {"title": "Battery", "titleFontSize": 11, "titleFontWeight": "bold", "titleColor": "#000", "titlePadding": 4, "titleY": 116, "values": [0,911,1822,2733,3644,4556,5467,6378,7289,8200,9111], "format": "d", "labelPadding": 5}}}
      }
    ]
  }
]
}
